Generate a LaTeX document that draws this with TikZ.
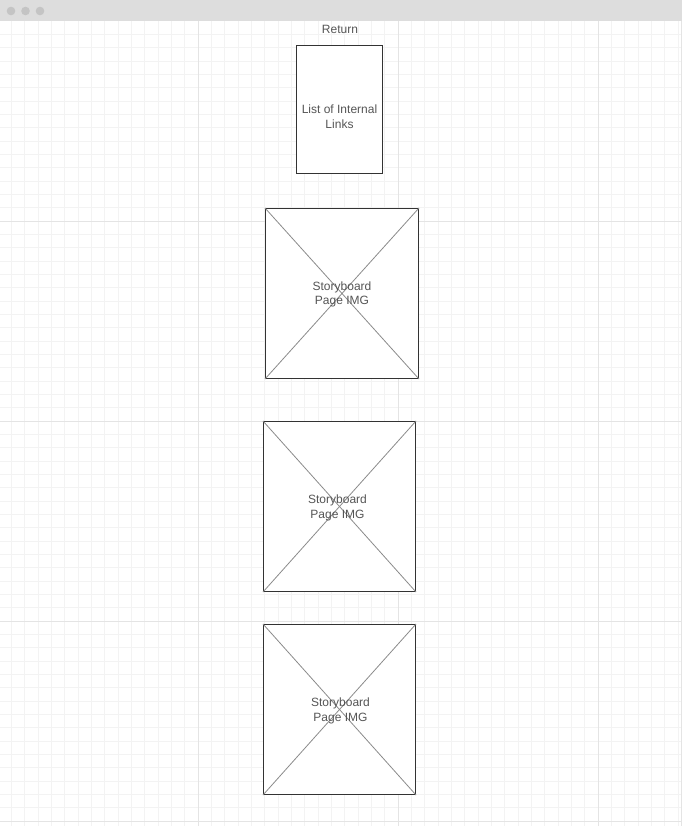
\documentclass[tikz,border=0pt]{standalone}
\usepackage{fontspec}
\setmainfont{Liberation Sans}
\definecolor{barbg}{HTML}{DDDDDD}
\definecolor{dotc}{HTML}{C4C4C4}
\definecolor{gridminor}{HTML}{F3F3F3}
\definecolor{gridmajor}{HTML}{E4E4E4}
\definecolor{boxline}{HTML}{333333}
\definecolor{crossline}{HTML}{8A8A8A}
\definecolor{txt}{HTML}{555555}
\tikzset{
  box/.style={draw=boxline, line width=1pt, fill=white, inner sep=0pt, anchor=north west},
  lbl/.style={text=txt, font=\fontsize{12}{14.5}\selectfont, align=center, inner sep=0pt},
  cross/.style={draw=crossline, line width=0.8pt},
}
\begin{document}
\begin{tikzpicture}[x=1pt,y=-1pt]
\useasboundingbox (0,0) rectangle (682,826);
\fill[white] (0,0) rectangle (682,826);
% grid
\foreach \k in {1,...,51} {
  \pgfmathsetmacro{\xx}{-1.67+13.333*\k}
  \draw[gridminor, line width=1pt] (\xx,21) -- (\xx,826);
}
\foreach \k in {1,...,60} {
  \pgfmathsetmacro{\yy}{21.33+13.333*\k}
  \draw[gridminor, line width=1pt] (0,\yy) -- (682,\yy);
}
\foreach \k in {15,30,45} {
  \pgfmathsetmacro{\xx}{-1.67+13.333*\k}
  \draw[gridmajor, line width=1pt] (\xx,21) -- (\xx,826);
}
\foreach \k in {15,30,45,60} {
  \pgfmathsetmacro{\yy}{21.33+13.333*\k}
  \draw[gridmajor, line width=1pt] (0,\yy) -- (682,\yy);
}
\draw[gridmajor, line width=1pt] (681.5,0) -- (681.5,826);
% title bar
\fill[barbg] (0,0) rectangle (682,21);
\fill[dotc] (11,11) circle (4.3);
\fill[dotc] (25.5,11) circle (4.3);
\fill[dotc] (40,11) circle (4.3);
% return label
\node[lbl] (ret) at (340,29) {Return};
% list box
\node[box, minimum width=86pt, minimum height=128pt] (list) at (296,45) {};
\node[lbl] (listtxt) at ([yshift=-7pt]list.center) {List of Internal\\Links};
% storyboard boxes
\node[box, minimum width=153pt, minimum height=170pt] (sb1) at (265,208) {};
\draw[cross] (sb1.north west) -- (sb1.south east);
\draw[cross] (sb1.north east) -- (sb1.south west);
\node[lbl] (sb1txt) at ([yshift=-1pt]sb1.center) {Storyboard\\Page IMG};

\node[box, minimum width=152pt, minimum height=170pt] (sb2) at (263,421) {};
\draw[cross] (sb2.north west) -- (sb2.south east);
\draw[cross] (sb2.north east) -- (sb2.south west);
\node[lbl] (sb2txt) at ([xshift=-2pt,yshift=-1.5pt]sb2.center) {Storyboard\\Page IMG};

\node[box, minimum width=152pt, minimum height=170pt] (sb3) at (263,624) {};
\draw[cross] (sb3.north west) -- (sb3.south east);
\draw[cross] (sb3.north east) -- (sb3.south west);
\node[lbl] (sb3txt) at ([xshift=1pt,yshift=-1.5pt]sb3.center) {Storyboard\\Page IMG};
\end{tikzpicture}
\end{document}
